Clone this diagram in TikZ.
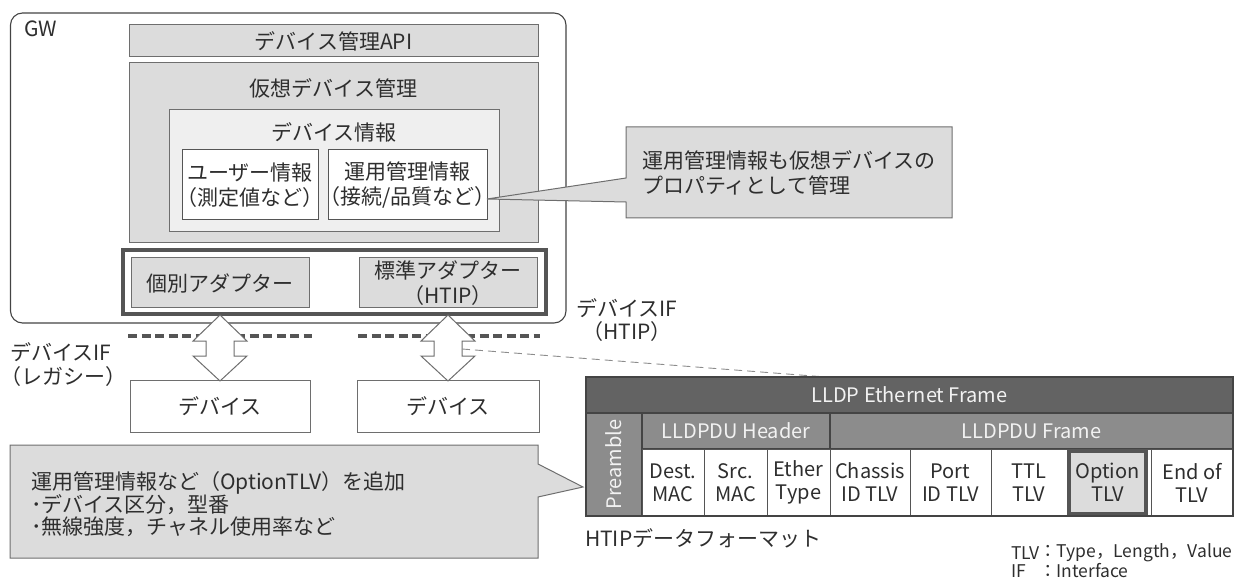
\documentclass[tikz,border=0pt]{standalone}
\usepackage{fontspec}
\setmainfont{Noto Sans CJK JP}
\usetikzlibrary{fit}
\definecolor{tc}{HTML}{2E2E2E}
\definecolor{bc}{HTML}{6E6E6E}
\definecolor{g1}{HTML}{DCDCDC}
\definecolor{g2}{HTML}{EFEFEF}
\definecolor{dk}{HTML}{555555}
\definecolor{hda}{HTML}{636363}
\definecolor{hdb}{HTML}{8C8C8C}
\definecolor{edge}{HTML}{444444}
\newcommand\fsz[2]{\fontsize{#1bp}{#2bp}\selectfont}
\begin{document}
\begin{tikzpicture}[x=1bp,y=-1bp,
  every node/.style={inner sep=0pt, outer sep=0pt},
  txt/.style={text=tc, font=\fsz{21}{25}, align=center},
  gbox/.style={draw=bc, fill=g1, line width=1bp},
  lbox/.style={draw=bc, fill=g2, line width=1bp},
  wbox/.style={draw=dk, fill=white, line width=1bp},
  thickdash/.style={draw=dk, line width=3.2bp, dash pattern=on 9bp off 4.5bp},
  thindash/.style={draw=hdb, line width=0.9bp, dash pattern=on 8bp off 5bp},
  dblarrow/.style={draw=bc, fill=white, line width=1bp, line join=miter},
  callout/.style={draw=bc, fill=g1, line width=1bp},
  hdcellA/.style={draw=edge, fill=hda, line width=1.5bp},
  hdcellB/.style={draw=edge, fill=hdb, line width=1.5bp},
  cell/.style={draw=dk, fill=white, line width=1bp},
  wt/.style={text=white!95!black, font=\fsz{20}{23}, align=center},
  ct/.style={text=tc, font=\fsz{20}{23}, align=center},
  lg/.style={text=tc, font=\fsz{17.5}{20}, anchor=west}
]
\useasboundingbox (0,0) rectangle (1237,586);

% ---- GW frame
\node[draw=edge, line width=1.1bp, rounded corners=12bp, fit={(10.5,13)(566,323)}] (gw) {};
\node[txt, anchor=west] (gwt) at (24,29) {GW};

\node[gbox, fit={(129,25)(538,57)}] (api) {};
\node[txt] (apit) at (api.center) {デバイス管理API};

\node[gbox, fit={(129,63)(538,243)}] (vdm) {};
\node[txt] (vdmt) at (333.5,88) {仮想デバイス管理};

\node[lbox, fit={(169,110)(499,232)}] (dinfo) {};
\node[txt] (dinfot) at (334,132) {デバイス情報};

\node[wbox, fit={(182,150)(318,220)}] (user) {};
\node[txt] (usert) at (user.center) {ユーザー情報\\（測定値など）};
\node[wbox, fit={(328,150)(487,220)}] (ops) {};
\node[txt] (opst) at (ops.center) {運用管理情報\\（接続/品質など）};

\node[draw=dk, line width=4bp, fit={(123,250)(546,314)}] (adp) {};
\node[gbox, fit={(131,258)(309,308)}] (ad1) {};
\node[txt] (ad1t) at (ad1.center) {個別アダプター};
\node[gbox, fit={(359,258)(537,308)}] (ad2) {};
\node[txt] (ad2t) at (ad2.center) {標準アダプター\\（HTIP）};

% ---- device interface lines
\draw[thickdash] (128,336) -- (312,336);
\draw[thickdash] (358,336) -- (540,336);

\node[wbox, draw=bc, fit={(130,380)(310,432)}] (dev1) {};
\node[txt] (dev1t) at (dev1.center) {デバイス};
\node[wbox, draw=bc, fit={(357,380)(539,432)}] (dev2) {};
\node[txt] (dev2t) at (dev2.center) {デバイス};

% ---- double arrows
\draw[dblarrow] (220,315) -- (247,341) -- (234,341) -- (234,356) -- (247,356) -- (220,381)
  -- (193,356) -- (206,356) -- (206,341) -- (193,341) -- cycle;
\draw[dblarrow] (448,315) -- (475,341) -- (462,341) -- (462,356) -- (475,356) -- (448,381)
  -- (421,356) -- (434,356) -- (434,341) -- (421,341) -- cycle;

\node[txt, anchor=west] (ifl1) at (10,352) {デバイスIF};
\node[txt, anchor=west] (ifl2) at (0,377) {（レガシー）};
\node[txt] (ifh1) at (627,308) {デバイスIF};
\node[txt] (ifh2) at (627,332) {（HTIP）};

% ---- top-right callout
\coordinate (tip1) at (487,199);
\draw[callout] (626,127) -- (952,127) -- (952,218) -- (626,218) -- (626,202) -- (tip1) -- (626,178) -- cycle;
\node[txt, anchor=west] (c1a) at (642,160) {運用管理情報も仮想デバイスの};
\node[txt, anchor=west] (c1b) at (642,185) {プロパティとして管理};

% ---- bottom-left callout
\coordinate (tip2) at (583,487);
\draw[callout] (10,445) -- (538,445) -- (538,464) -- (tip2) -- (538,497) -- (538,558) -- (10,558) -- cycle;
\node[txt, anchor=west] (c2a) at (31,483) {運用管理情報など（OptionTLV）を追加};
\node[txt, anchor=west] (c2b) at (31,505) {･デバイス区分，型番};
\node[txt, anchor=west] (c2c) at (31,527) {･無線強度，チャネル使用率など};

% ---- LLDP table
\coordinate (a2r) at (462,349);
\coordinate (tabtop) at (826,377);
\draw[thindash] (a2r) -- (tabtop);

\node[hdcellA, fit={(586,377)(1233,413)}] (lldp) {};
\node[wt] (lldpt) at (lldp.center) {LLDP Ethernet Frame};
\node[hdcellB, fit={(586,413)(642,516)}] (pre) {};
\node[wt, rotate=90] (pret) at (pre.center) {Preamble};
\node[hdcellB, fit={(642,413)(830,449)}] (hdr) {};
\node[wt] (hdrt) at (hdr.center) {LLDPDU Header};
\node[hdcellB, fit={(830,413)(1233,449)}] (frm) {};
\node[wt] (frmt) at (frm.center) {LLDPDU Frame};

\foreach \a/\b/\t [count=\i] in {642/704/{Dest.\\MAC}, 704/767/{Src.\\MAC}, 767/830/{Ether\\Type},
  830/910/{Chassis\\ID TLV}, 910/991/{Port\\ID TLV}, 991/1067/{TTL\\TLV}, 1151/1233/{End of\\TLV}}{
  \node[cell, fit={(\a,449)(\b,516)}] (c\i) {};
  \node[ct] (ct\i) at (c\i.center) {\t};
}
\node[cell, fit={(1067,449)(1151,516)}] (optc) {};
\node[draw=dk, fill=g1, line width=4bp, fit={(1069,451)(1146,514)}] (opt) {};
\node[ct] (optt) at (opt.center) {Option\\TLV};

\draw[edge, line width=1.5bp] (586,377) rectangle (1233,516);

\node[txt, anchor=west] (fmt) at (585,538) {HTIPデータフォーマット};

% ---- legend
\node[lg] (l1) at (1011,553) {TLV};
\node[lg] (l2) at (1039,553) {：Type，Length，Value};
\node[lg] (l3) at (1011,571) {IF};
\node[lg] (l4) at (1039,571) {：Interface};
\end{tikzpicture}
\end{document}
